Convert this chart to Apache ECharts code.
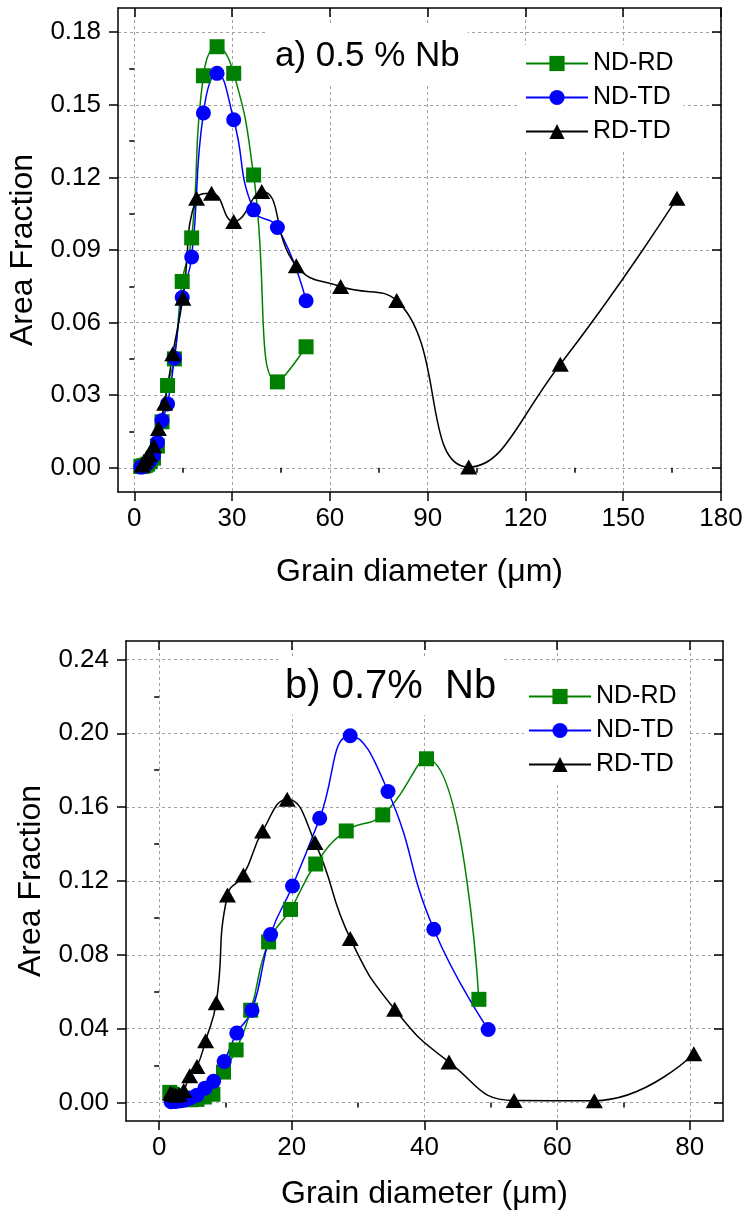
<!DOCTYPE html>
<html>
<head>
<meta charset="utf-8">
<script src="https://cdn.jsdelivr.net/npm/echarts@6/dist/echarts.min.js"></script>
<style>
html, body { margin: 0; padding: 0; background: #fff; }
#chart { width: 745px; height: 1218px; }
</style>
</head>
<body>
<div id="chart"></div>
<script>
// a) 0.5 % Nb
const aNdRdX = [2.0, 2.4, 2.8, 3.4, 4.1, 4.9, 5.9, 7.1, 8.5, 10.2, 12.3, 14.7, 17.6, 21.2, 25.4, 30.5, 36.6, 43.9, 52.7];
const aNdRdY = [0.0005, 0.0006, 0.0008, 0.001, 0.0015, 0.0025, 0.004, 0.009, 0.019, 0.034, 0.045, 0.077, 0.095, 0.162, 0.174, 0.163, 0.121, 0.0355, 0.050];
const aNdTdX = [2.0, 2.4, 2.8, 3.4, 4.1, 4.9, 5.9, 7.1, 8.5, 10.2, 12.3, 14.7, 17.6, 21.2, 25.4, 30.5, 36.6, 43.9, 52.7];
const aNdTdY = [0.0003, 0.0004, 0.0006, 0.001, 0.002, 0.003, 0.005, 0.0105, 0.0195, 0.0264, 0.0453, 0.0704, 0.0871, 0.1466, 0.163, 0.1438, 0.1066, 0.0993, 0.069];
const aRdTdX = [2.4, 3.0, 3.7, 4.6, 5.9, 7.4, 9.3, 11.8, 14.9, 19.1, 23.7, 30.5, 39.1, 49.7, 63.3, 80.5, 102.6, 130.7, 166.5];
const aRdTdY = [0.0012, 0.0025, 0.004, 0.0055, 0.0091, 0.0162, 0.0267, 0.0471, 0.0701, 0.1114, 0.1135, 0.1018, 0.1142, 0.0835, 0.0749, 0.0691, 0.0003, 0.0428, 0.1114];

// b) 0.7 % Nb
const bNdRdX = [1.6, 1.9, 2.3, 2.8, 3.3, 4.0, 4.7, 5.7, 6.8, 8.1, 9.7, 11.6, 13.8, 16.5, 19.8, 23.6, 28.2, 33.7, 40.3, 48.2];
const bNdRdY = [0.0055, 0.0045, 0.0035, 0.003, 0.0025, 0.002, 0.0015, 0.0017, 0.003, 0.0045, 0.0165, 0.0285, 0.050, 0.087, 0.1046, 0.1292, 0.1471, 0.1558, 0.1862, 0.0559];
const bNdTdX = [1.8, 2.2, 2.7, 3.3, 3.9, 4.7, 5.7, 6.9, 8.2, 9.8, 11.7, 14.0, 16.8, 20.1, 24.2, 28.8, 34.5, 41.4, 49.6];
const bNdTdY = [0.0004, 0.0005, 0.0007, 0.001, 0.0014, 0.0025, 0.004, 0.0078, 0.0115, 0.0222, 0.0376, 0.050, 0.091, 0.1173, 0.154, 0.1987, 0.1685, 0.0939, 0.0396];
const bRdTdX = [1.7, 2.1, 2.5, 3.0, 3.7, 4.6, 5.7, 7.0, 8.6, 10.3, 12.7, 15.6, 19.3, 23.5, 28.8, 35.5, 43.7, 53.5, 65.6, 80.6];
const bRdTdY = [0.005, 0.0045, 0.004, 0.0045, 0.0065, 0.0145, 0.0195, 0.0335, 0.054, 0.1124, 0.1232, 0.1471, 0.1643, 0.1408, 0.0889, 0.0505, 0.0219, 0.0011, 0.001, 0.0264];

// ticks
const aXTicks = [0, 30, 60, 90, 120, 150, 180];
const aXMinor = [15, 45, 75, 105, 135, 165];
const aYTicks = [0, 0.03, 0.06, 0.09, 0.12, 0.15, 0.18];
const aYMinor = [0.015, 0.045, 0.075, 0.105, 0.135, 0.165];
const bXTicks = [0, 20, 40, 60, 80];
const bXMinor = [10, 30, 50, 70];
const bYTicks = [0, 0.04, 0.08, 0.12, 0.16, 0.20, 0.24];
const bYMinor = [0.02, 0.06, 0.10, 0.14, 0.18, 0.22];

const FONT = "'Liberation Sans', Arial, sans-serif";

// one framed axis = labelled side + minor ticks + mirrored side with inner ticks
function frame(dim, grid, min, max, major, minor, fmt, name, nameGap, margin) {
    const out = dim === 'x' ? 'bottom' : 'left';
    const inn = dim === 'x' ? 'top' : 'right';
    const line = { show: true, onZero: false, lineStyle: { color: '#000', width: 1.5 } };
    const tick = (vals, len, inside) => ({ show: true, inside: inside, length: len, customValues: vals, lineStyle: { color: '#000', width: 1.5 } });
    const base = { type: 'value', gridIndex: grid, min: min, max: max, axisLabel: { show: false }, splitLine: { show: false } };
    return [
        Object.assign({}, base, {
            position: out, axisLine: line, axisTick: tick(major, 9, false),
            axisLabel: { show: true, customValues: major, formatter: fmt, fontSize: 26, color: '#000', fontFamily: FONT, margin: margin },
            splitLine: { show: true, lineStyle: { color: '#a0a0a0', width: 1, type: [3, 3] } },
            name: name, nameLocation: 'middle', nameGap: nameGap,
            nameTextStyle: { fontSize: 32, color: '#000', fontFamily: FONT }
        }),
        Object.assign({}, base, { position: out, axisLine: { show: false }, axisTick: tick(minor, 5, false) }),
        Object.assign({}, base, { position: inn, axisLine: line, axisTick: tick(major, 9, true) }),
        Object.assign({}, base, { position: inn, axisLine: { show: false }, axisTick: tick(minor, 5, true) })
    ];
}

function mk(name, xs, ys, grid, symbol, size, color) {
    return {
        name: name, type: 'line', xAxisIndex: grid * 4, yAxisIndex: grid * 4,
        data: xs.map((x, i) => [x, ys[i]]),
        smooth: 0.5, symbol: symbol, symbolSize: size, showSymbol: true,
        lineStyle: { color: color, width: 1.5 }, itemStyle: { color: color },
        emphasis: { disabled: true }
    };
}

const fx = v => String(v);
const fy = v => v.toFixed(2);
const xName = 'Grain diameter (\u03bcm)';

const legendBase = {
    orient: 'vertical', itemWidth: 62, itemHeight: 19, itemGap: 9,
    backgroundColor: '#fff',
    textStyle: { fontSize: 25, color: '#000', fontFamily: FONT },
    data: ['ND-RD', 'ND-TD', 'RD-TD']
};

const myChart = echarts.init(document.getElementById('chart'));
myChart.setOption({
    animation: false,
    backgroundColor: '#fff',
    title: [
        { text: 'a) 0.5 % Nb', left: 268, top: 24, padding: [15, 8, 10, 7], backgroundColor: '#fff',
          textStyle: { fontSize: 35, fontWeight: 'normal', color: '#000', fontFamily: FONT } },
        { text: 'b) 0.7%  Nb', left: 278, top: 657, padding: [10, 8, 8, 7], backgroundColor: '#fff',
          textStyle: { fontSize: 40, fontWeight: 'normal', color: '#000', fontFamily: FONT } }
    ],
    legend: [
        Object.assign({}, legendBase, { left: 520, top: 45, padding: [6, 10, 6, 5] }),
        Object.assign({}, legendBase, { left: 524, top: 662, padding: [22, 12, 7, 4] })
    ],
    grid: [
        { left: 118, top: 8, width: 603, height: 484, outerBoundsMode: 'none' },
        { left: 126, top: 641, width: 597, height: 480, outerBoundsMode: 'none' }
    ],
    xAxis: [].concat(
        frame('x', 0, -5, 180, aXTicks, aXMinor, fx, xName, 64, 14),
        frame('x', 1, -5, 85, bXTicks, bXMinor, fx, xName, 57, 14)
    ),
    yAxis: [].concat(
        frame('y', 0, -0.01, 0.19, aYTicks, aYMinor, fy, 'Area Fraction', 72, 17),
        frame('y', 1, -0.01, 0.25, bYTicks, bYMinor, fy, 'Area Fraction', 74, 17)
    ),
    series: [
        mk('ND-RD', aNdRdX, aNdRdY, 0, 'rect', 15, '#008000'),
        mk('ND-TD', aNdTdX, aNdTdY, 0, 'circle', 15, '#0000ff'),
        mk('RD-TD', aRdTdX, aRdTdY, 0, 'triangle', [17, 15], '#000000'),
        mk('ND-RD', bNdRdX, bNdRdY, 1, 'rect', 15, '#008000'),
        mk('ND-TD', bNdTdX, bNdTdY, 1, 'circle', 15, '#0000ff'),
        mk('RD-TD', bRdTdX, bRdTdY, 1, 'triangle', [17, 15], '#000000')
    ]
});
</script>
</body>
</html>
